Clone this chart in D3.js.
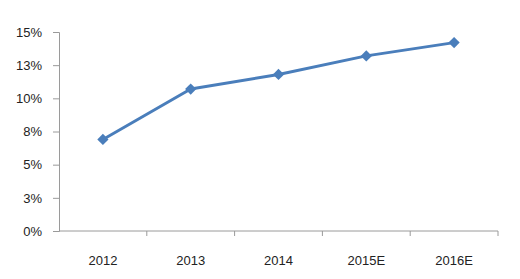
<!DOCTYPE html>
<html>
  <head>
    <script src="https://d3js.org/d3.v7.min.js"></script>
    <style>
      body { margin: 0; background: #fff; }
      text { font-family: "Liberation Sans", Arial, sans-serif; }
    </style>
  </head>
  <body>
    <svg width="520" height="279"></svg>
    <script>
      const years = ["2012", "2013", "2014", "2015E", "2016E"];
      const values = [6.9, 10.7, 11.8, 13.2, 14.2];
      const yTicks = [0, 2.5, 5, 7.5, 10, 12.5, 15];
      const yTickLabels = ["0%", "3%", "5%", "8%", "10%", "13%", "15%"];

      const svg = d3.select("svg");
      const margin = {top: 32, right: 22, bottom: 48, left: 59};
      const width = 520 - margin.left - margin.right;
      const height = 279 - margin.top - margin.bottom;

      const g = svg.append("g")
        .attr("transform", `translate(${margin.left},${margin.top})`);

      const x = d3.scaleBand().domain(years).range([0, width]);
      const y = d3.scaleLinear().domain([0, 15]).range([height, 0]);

      const axisColor = "#9a9a9a";

      // y axis
      const yAxis = g.append("g")
        .call(d3.axisLeft(y).tickValues(yTicks)
          .tickFormat((d, i) => yTickLabels[i]).tickSize(6).tickPadding(11));
      yAxis.select(".domain").attr("stroke", axisColor);
      yAxis.selectAll(".tick line").attr("stroke", axisColor);
      yAxis.selectAll("text").attr("fill", "#222").style("font-size", "13px");

      // x axis with ticks at band boundaries
      const xAxis = g.append("g").attr("transform", `translate(0,${height})`);
      xAxis.append("line")
        .attr("x1", 0).attr("x2", width)
        .attr("stroke", axisColor);
      xAxis.selectAll(".bound")
        .data(years)
        .join("line")
        .attr("class", "bound")
        .attr("x1", d => x(d) + x.bandwidth())
        .attr("x2", d => x(d) + x.bandwidth())
        .attr("y1", 0).attr("y2", 5)
        .attr("stroke", axisColor);
      xAxis.selectAll(".lbl")
        .data(years)
        .join("text")
        .attr("class", "lbl")
        .attr("x", d => x(d) + x.bandwidth() / 2)
        .attr("y", 34)
        .attr("text-anchor", "middle")
        .attr("fill", "#222")
        .style("font-size", "13px")
        .text(d => d);

      const cx = (d, i) => x(years[i]) + x.bandwidth() / 2;

      const line = d3.line()
        .x((d, i) => cx(d, i))
        .y(d => y(d));

      g.append("path")
        .datum(values)
        .attr("fill", "none")
        .attr("stroke", "#4a7ebb")
        .attr("stroke-width", 3)
        .attr("stroke-linejoin", "round")
        .attr("d", line);

      g.selectAll(".pt")
        .data(values)
        .join("path")
        .attr("class", "pt")
        .attr("transform", (d, i) => `translate(${cx(d, i)},${y(d)})`)
        .attr("d", d3.symbol(d3.symbolDiamond2, 80))
        .attr("fill", "#4a7ebb");
    </script>
  </body>
</html>
